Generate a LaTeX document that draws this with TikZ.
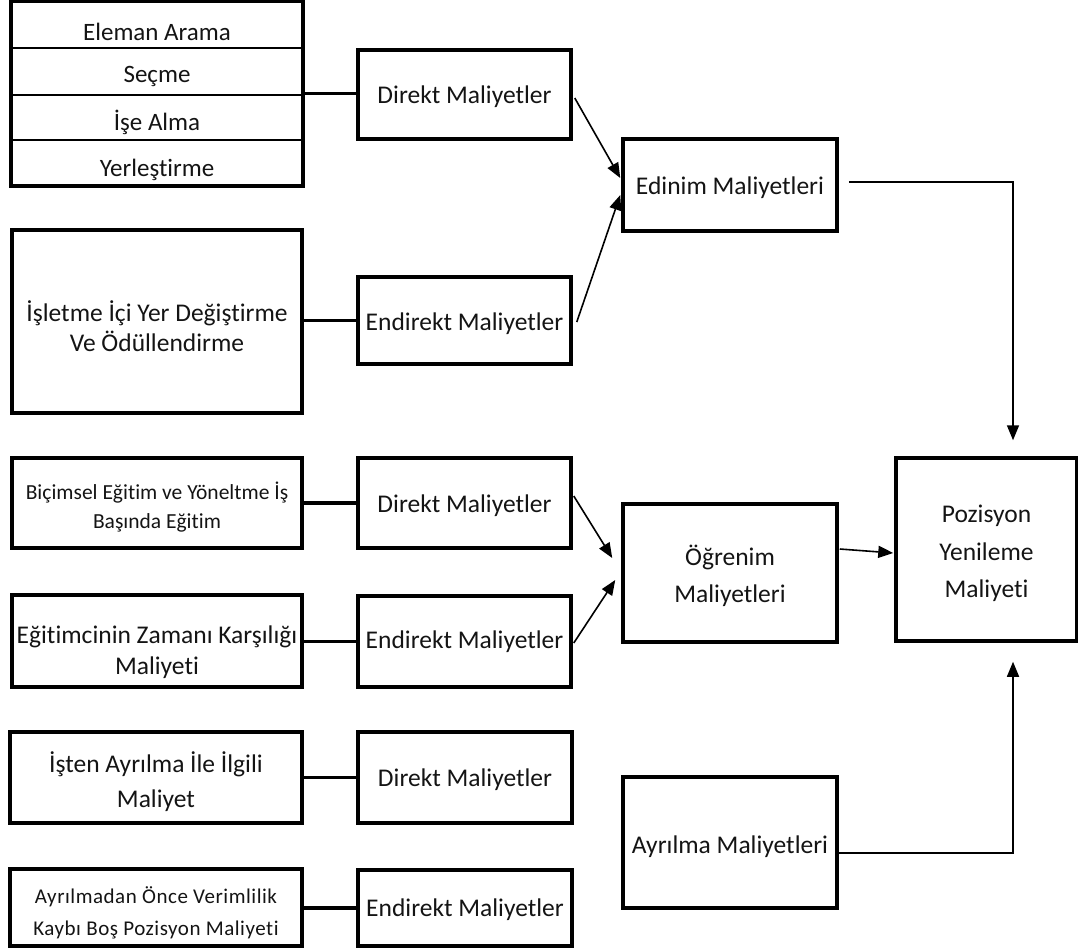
\documentclass[tikz,border=0pt]{standalone}
\usepackage{fontspec}
\setmainfont[Ligatures=NoCommon]{Carlito}
\newfontfamily\spacedfont[LetterSpace=2.5,Ligatures=NoCommon]{Carlito}
\usetikzlibrary{arrows.meta,fit}

\begin{document}
\begin{tikzpicture}[x=1pt,y=-1pt,
  box/.style={draw=black, line width=3.5pt, inner sep=0pt},
  row/.style={draw=black, line width=1.6pt, minimum width=290pt, inner sep=0pt},
  txt/.style={inner sep=0pt, align=center, text=black!92,
              font=\fontsize{25.5}{35}\selectfont},
  link/.style={line width=3.5pt},
  flow/.style={line width=1.6pt, -{Triangle[length=15pt,width=12pt]}},
]
\useasboundingbox (0,0) rectangle (1078,948);

% recruitment steps (stacked rows)
\node[row, minimum height=46pt] (r1) at (157,25)    {};
\node[row, minimum height=47pt] (r2) at (157,71.5)  {};
\node[row, minimum height=45pt] (r3) at (157,117.5) {};
\node[row, minimum height=45pt] (r4) at (157,162.5) {};
\node[fit=(r1)(r4), draw=black, line width=3.5pt, inner sep=0pt] (stack) {};
\node[txt, font=\fontsize{25}{30}\selectfont] (r1t) at ([yshift=-7pt]r1.center) {Eleman Arama};
\node[txt, font=\fontsize{25}{30}\selectfont] (r2t) at ([yshift=-5pt]r2.center) {Seçme};
\node[txt, font=\fontsize{25}{30}\selectfont] (r3t) at ([yshift=-5pt]r3.center) {İşe Alma};
\node[txt, font=\fontsize{25}{30}\selectfont] (r4t) at ([yshift=-7pt]r4.center) {Yerleştirme};

% left column
\node[box, minimum width=290pt, minimum height=183pt] (isl)   at (157,321.5) {};
\node[box, minimum width=290pt, minimum height=90pt]  (bic)   at (157,503)   {};
\node[box, minimum width=290pt, minimum height=92pt]  (egt)   at (157,641)   {};
\node[box, minimum width=292pt, minimum height=91pt]  (isten) at (156,777.5) {};
\node[box, minimum width=292pt, minimum height=77pt]  (ayr2)  at (156,907.5) {};
\node[txt, font=\fontsize{25.5}{30}\selectfont] (islt) at ([yshift=-5pt]isl.center)
  {İşletme İçi Yer Değiştirme\\Ve Ödüllendirme};
\node[txt, font=\fontsize{21.5}{29}\selectfont] (bict) at ([yshift=-4pt]bic.center)
  {Biçimsel\ Eğitim ve Yöneltme İş\\Başında Eğitim};
\node[txt, font=\fontsize{25.5}{31}\selectfont] (egtt) at ([yshift=-11pt]egt.center)
  {Eğitimcinin Zamanı Karşılığı\\Maliyeti};
\node[txt] (istent) at ([yshift=-4pt]isten.center)
  {İşten Ayrılma İle İlgili\\Maliyet};
\node[txt, font=\spacedfont\fontsize{21}{32}\selectfont] (ayr2t) at ([yshift=-5pt]ayr2.center)
  {Ayrılmadan Önce Verimlilik\\Kaybı Boş Pozisyon Maliyeti};

% direct / indirect cost column
\node[box, minimum width=213pt, minimum height=89pt] (d1) at (464.5,94.5)  {};
\node[box, minimum width=213pt, minimum height=87pt] (e1) at (464.5,320.5) {};
\node[box, minimum width=213pt, minimum height=90pt] (d2) at (464.5,503)   {};
\node[box, minimum width=213pt, minimum height=91pt] (e2) at (464.5,641.5) {};
\node[box, minimum width=214pt, minimum height=91pt] (d3) at (465,777.5)   {};
\node[box, minimum width=214pt, minimum height=76pt] (e3) at (465,908)     {};
\node[txt] (d1t) at ([yshift=-2pt]d1.center) {Direkt Maliyetler};
\node[txt] (e1t) at ([yshift=-3pt]e1.center) {Endirekt Maliyetler};
\node[txt] (d2t) at ([yshift=-3pt]d2.center) {Direkt Maliyetler};
\node[txt] (e2t) at (e2.center)              {Endirekt Maliyetler};
\node[txt] (d3t) at ([yshift=-2pt]d3.center) {Direkt Maliyetler};
\node[txt] (e3t) at ([yshift=-2pt]e3.center) {Endirekt Maliyetler};

% cost groups
\node[box, minimum width=214pt, minimum height=92pt]  (edinim) at (730,185)     {};
\node[box, minimum width=214pt, minimum height=138pt] (ogr)    at (730,573)     {};
\node[box, minimum width=214pt, minimum height=131pt] (ayr)    at (730,842.5)   {};
\node[box, minimum width=181pt, minimum height=183pt] (poz)    at (986.5,549.5) {};
\node[txt] (edinimt) at ([yshift=-3pt]edinim.center) {Edinim Maliyetleri};
\node[txt, font=\fontsize{25.5}{37}\selectfont] (ogrt) at ([yshift=-3pt]ogr.center) {Öğrenim\\Maliyetleri};
\node[txt] (ayrt) at ([yshift=-4pt]ayr.center) {Ayrılma Maliyetleri};
\node[txt, font=\fontsize{25.5}{37.5}\selectfont] (pozt) at ([yshift=-4pt]poz.center)
  {Pozisyon\\Yenileme\\Maliyeti};

% item-to-category links
\draw[link] (stack.east) -- (stack.east -| d1.west);
\draw[link] (e1.west -| isl.east) -- (e1.west);
\draw[link] (d2.west -| bic.east) -- (d2.west);
\draw[link] (e2.west -| egt.east) -- (e2.west);
\draw[link] (d3.west -| isten.east) -- (d3.west);
\draw[link] (e3.west -| ayr2.east) -- (e3.west);

% category-to-group arrows
\draw[flow] ([xshift=2pt,yshift=-3.5pt]d1.east) -- ([xshift=-1pt,yshift=7pt]edinim.west);
\draw[flow] ([xshift=4pt,yshift=-1.5pt]e1.east) -- ([xshift=-1pt,yshift=-10pt]edinim.west);
\draw[flow] ([xshift=1pt,yshift=7pt]d2.east) -- ([xshift=-9pt,yshift=15pt]ogr.west);
\draw[flow] ([xshift=1pt,yshift=-1.5pt]e2.east) -- ([xshift=-6pt,yshift=-7pt]ogr.west);

% group-to-total arrows
\draw[flow] ([xshift=1pt,yshift=24pt]ogr.east) -- ([xshift=-1pt,yshift=-3.5pt]poz.west);
\draw[flow] ([xshift=10pt,yshift=3pt]edinim.east) -| ([xshift=26.5pt,yshift=16pt]poz.north);
\draw[flow] ([yshift=-10.5pt]ayr.east) -| ([xshift=26.5pt,yshift=-19pt]poz.south);
\end{tikzpicture}
\end{document}
